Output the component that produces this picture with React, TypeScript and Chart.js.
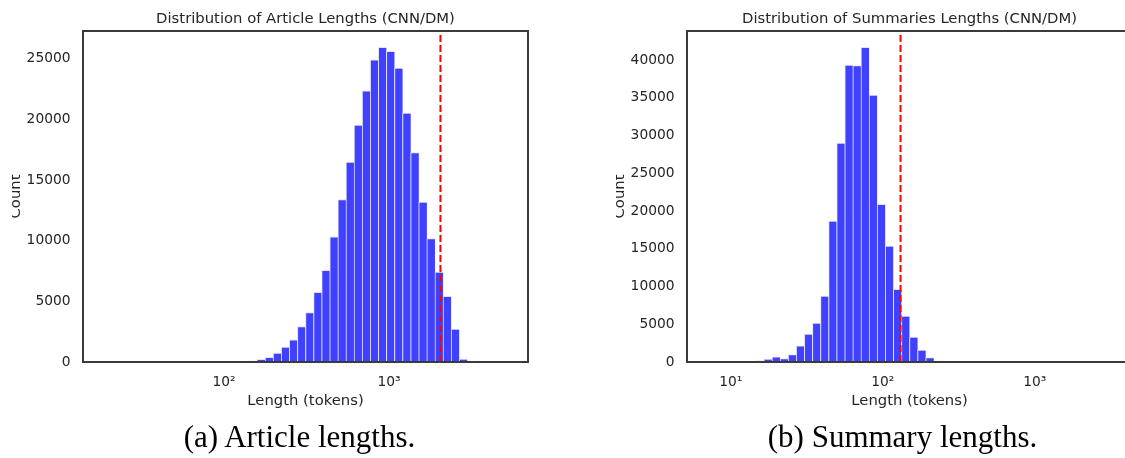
import React, { useEffect, useRef } from 'react';
import { Chart, registerables } from 'chart.js';

Chart.register(...registerables);

// ---------- Data ----------
// Article lengths: 50 log-spaced bins
const articleBinRange = [18.54, 5248];
const articleCounts = [
  0, 0, 0, 0, 0, 0, 0, 0, 0, 0,
  0, 0, 0, 0, 0, 0, 0, 40, 90, 220,
  390, 745, 1240, 1820, 2930, 4085, 5740, 7560, 10320, 13390,
  16480, 19540, 22360, 24920, 25950, 25620, 24250, 20540, 17270, 13200,
  10180, 7420, 5420, 2720, 250, 15, 0, 0, 0, 0,
];
const articleXRange = [13.98, 6957];
const articleXTicks = [100, 1000];
const articleXTickLabels = ['10²', '10³'];
const articleYTicks = [0, 5000, 10000, 15000, 20000, 25000];
const articleYMax = 27300;
const articleCutoff = 2050;
const articleTitle = 'Distribution of Article Lengths (CNN/DM)';
const articleCaption = '(a) Article lengths.';

// Summary lengths: 50 log-spaced bins
const summaryBinRange = [7.01, 3214];
const summaryCounts = [
  0, 0, 0, 0, 0, 50, 180, 400, 700, 450,
  970, 2150, 3710, 5170, 8740, 18680, 29010, 39340, 39250, 41680,
  35360, 20880, 15360, 9620, 6090, 3310, 1590, 570, 150, 30,
  0, 0, 0, 0, 0, 0, 0, 0, 0, 0,
  0, 0, 0, 0, 0, 0, 0, 0, 0, 0,
];
const summaryXRange = [5.158, 4365];
const summaryXTicks = [10, 100, 1000];
const summaryXTickLabels = ['10¹', '10²', '10³'];
const summaryYTicks = [0, 5000, 10000, 15000, 20000, 25000, 30000, 35000, 40000];
const summaryYMax = 43840;
const summaryCutoff = 131;
const summaryTitle = 'Distribution of Summaries Lengths (CNN/DM)';
const summaryCaption = '(b) Summary lengths.';

const xAxisLabel = 'Length (tokens)';
const yAxisLabel = 'Count';

// ---------- Styling ----------
const TEXT = '#262626';
const FONT = '"DejaVu Sans", sans-serif';
const CANVAS_W = 560;
const CANVAS_H = 420;

type HistProps = {
  counts: number[];
  binRange: number[];
  xRange: number[];
  xTicks: number[];
  xTickLabels: string[];
  yTicks: number[];
  yMax: number;
  cutoff: number;
  title: string;
};

function makeOverlay(p: HistProps) {
  return {
    id: 'overlay',
    afterDatasetsDraw(chart: any) {
      const { ctx, chartArea: a, scales } = chart;
      const x = scales.x.getPixelForValue(p.cutoff);
      ctx.save();
      // cutoff line
      ctx.strokeStyle = '#ff0000';
      ctx.lineWidth = 2;
      ctx.setLineDash([7, 3]);
      ctx.beginPath();
      ctx.moveTo(x, a.bottom);
      ctx.lineTo(x, a.top);
      ctx.stroke();
      ctx.setLineDash([]);
      // frame
      ctx.strokeStyle = '#3a3a3a';
      ctx.lineWidth = 2;
      ctx.strokeRect(a.left, a.top, a.right - a.left, a.bottom - a.top);
      // texts
      ctx.fillStyle = TEXT;
      ctx.textAlign = 'center';
      ctx.textBaseline = 'alphabetic';
      ctx.font = `14.8px ${FONT}`;
      const cx = (a.left + a.right) / 2;
      ctx.fillText(p.title, cx, 23.3);
      ctx.fillText(xAxisLabel, cx, 404.5);
      ctx.translate(a.left - 63, (a.top + a.bottom) / 2);
      ctx.rotate(-Math.PI / 2);
      ctx.fillText(yAxisLabel, 0, 0);
      ctx.restore();
    },
  };
}

function HistChart(p: HistProps) {
  const ref = useRef<HTMLCanvasElement>(null);
  useEffect(() => {
    if (!ref.current) return;
    const lo = Math.log10(p.binRange[0]);
    const hi = Math.log10(p.binRange[1]);
    const w = (hi - lo) / p.counts.length;
    const data = p.counts.map((c, i) => ({ x: Math.pow(10, lo + (i + 0.5) * w), y: c }));
    const tickFont = { family: FONT, size: 13.8 };
    const chart = new Chart(ref.current, {
      type: 'bar',
      data: {
        datasets: [
          {
            data: data as any,
            backgroundColor: '#4040ff',
            borderColor: 'rgba(225,225,255,1)',
            borderWidth: { top: 1, left: 1, right: 0, bottom: 0 } as any,
            borderSkipped: 'start',
            barPercentage: 1,
            categoryPercentage: 1,
          },
        ],
      },
      options: {
        animation: false,
        responsive: false,
        layout: { padding: { left: 0, top: 31, right: 32, bottom: 0 } },
        plugins: { legend: { display: false }, tooltip: { enabled: false } },
        scales: {
          x: {
            type: 'logarithmic',
            min: p.xRange[0],
            max: p.xRange[1],
            grid: { display: false, drawTicks: false },
            border: { display: false },
            afterBuildTicks: (s: any) => {
              s.ticks = p.xTicks.map((v) => ({ value: v }));
            },
            afterFit: (s: any) => {
              s.height = 58;
            },
            ticks: {
              autoSkip: false,
              maxRotation: 0,
              padding: 12,
              color: TEXT,
              font: tickFont,
              callback: (v: any) => {
                const i = p.xTicks.indexOf(Number(v));
                return i >= 0 ? p.xTickLabels[i] : '';
              },
            },
          },
          y: {
            type: 'linear',
            min: 0,
            max: p.yMax,
            grid: { display: false, drawTicks: false },
            border: { display: false },
            afterBuildTicks: (s: any) => {
              s.ticks = p.yTicks.map((v) => ({ value: v }));
            },
            afterFit: (s: any) => {
              s.width = 83;
            },
            ticks: {
              padding: 12.5,
              color: TEXT,
              font: tickFont,
              callback: (v: any) => String(v),
            },
          },
        },
      } as any,
      plugins: [makeOverlay(p)],
    });
    return () => chart.destroy();
  }, []);
  return <canvas ref={ref} width={CANVAS_W} height={CANVAS_H} style={{ display: 'block' }} />;
}

const captionStyle: React.CSSProperties = {
  position: 'absolute',
  top: 421,
  width: 600,
  textAlign: 'center',
  fontFamily: '"Liberation Serif", serif',
  fontSize: 31,
  lineHeight: '31px',
  color: '#000',
  whiteSpace: 'nowrap',
};

export default function App() {
  return (
    <div
      style={{
        position: 'fixed',
        left: 0,
        top: 0,
        width: 1125,
        height: 458,
        overflow: 'hidden',
        background: '#fff',
      }}
    >
      <div style={{ position: 'absolute', left: 12, top: 0, width: 548, height: CANVAS_H, overflow: 'hidden' }}>
        <div style={{ position: 'absolute', left: -12, top: 0 }}>
          <HistChart
            counts={articleCounts}
            binRange={articleBinRange}
            xRange={articleXRange}
            xTicks={articleXTicks}
            xTickLabels={articleXTickLabels}
            yTicks={articleYTicks}
            yMax={articleYMax}
            cutoff={articleCutoff}
            title={articleTitle}
          />
        </div>
      </div>
      <div style={{ position: 'absolute', left: 616, top: 0, width: 509, height: CANVAS_H, overflow: 'hidden' }}>
        <div style={{ position: 'absolute', left: -12, top: 0 }}>
          <HistChart
            counts={summaryCounts}
            binRange={summaryBinRange}
            xRange={summaryXRange}
            xTicks={summaryXTicks}
            xTickLabels={summaryXTickLabels}
            yTicks={summaryYTicks}
            yMax={summaryYMax}
            cutoff={summaryCutoff}
            title={summaryTitle}
          />
        </div>
      </div>
      <div style={{ ...captionStyle, left: 299.5 - 300 }}>{articleCaption}</div>
      <div style={{ ...captionStyle, left: 902.5 - 300 }}>{summaryCaption}</div>
    </div>
  );
}
